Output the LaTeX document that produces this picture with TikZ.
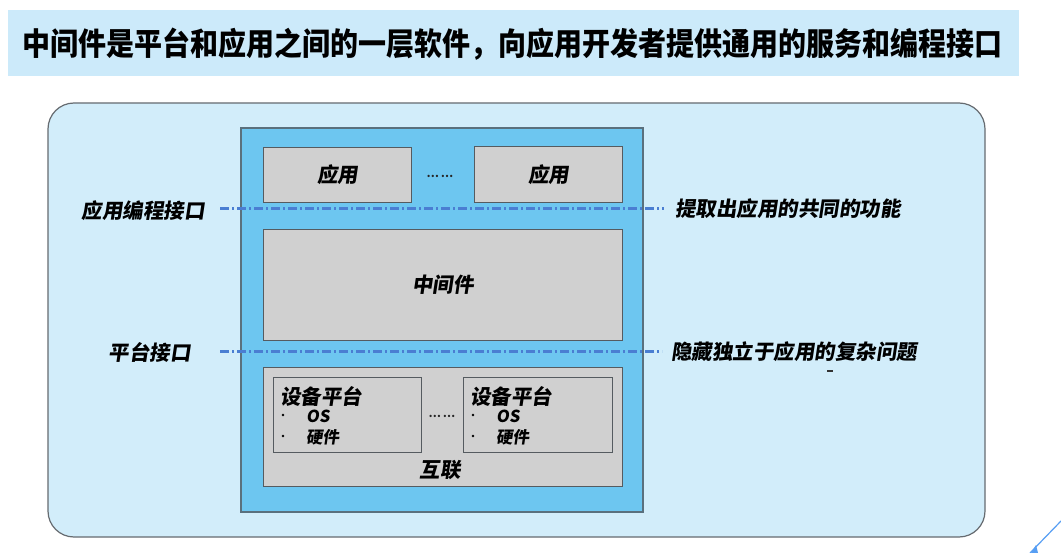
\documentclass[tikz,border=0pt]{standalone}
\usepackage{fontspec}
\newfontfamily\cjk{Noto Sans CJK SC}[FakeSlant=0.15]
\newfontfamily\cjkup{Noto Sans CJK SC}
\definecolor{titlebg}{HTML}{CCEAFA}
\definecolor{outerbg}{HTML}{D2EDFA}
\definecolor{innerbg}{HTML}{6DC6F0}
\definecolor{boxbg}{HTML}{D0D0D0}
\definecolor{ddline}{HTML}{4A7ED2}
\definecolor{edge}{HTML}{555B60}
\tikzset{
  gbox/.style={draw=edge, line width=1pt, fill=boxbg, anchor=north west, inner sep=0pt},
  lbl/.style={font=\cjk\bfseries\fontsize{20.5}{24}\selectfont, text=black, inner sep=0pt},
  small/.style={font=\cjk\bfseries\fontsize{16.5}{18}\selectfont, text=black, inner sep=0pt},
  bul/.style={circle, fill=black, inner sep=0pt, minimum size=2.6pt},
  dots/.style={font=\cjkup\bfseries\fontsize{11}{12}\selectfont, text=black!85, inner sep=0pt},
  ddl/.style={draw=ddline, line width=3pt, dash pattern=on 9pt off 3pt on 2pt off 3pt}
}
\begin{document}
\begin{tikzpicture}[x=1pt,y=-1pt]
\useasboundingbox (0,0) rectangle (1061,553);
\fill[white] (0,0) rectangle (1061,553);
% title
\fill[titlebg] (8,10) rectangle (1019,76);
\node[font=\cjkup\bfseries\fontsize{28}{32}\selectfont, inner sep=0pt] (title) at (513,44) {\scalebox{1}[1.12]{中间件是平台和应用之间的一层软件，向应用开发者提供通用的服务和编程接口}};
% outer panel
\draw[draw=edge!90, line width=1.2pt, fill=outerbg, rounded corners=26pt] (48,103) rectangle (985,537);
% inner blue
\draw[draw=edge!80!innerbg, line width=1.2pt, fill=innerbg] (241,128) rectangle (643,512);
% apps
\node[gbox, minimum width=148pt, minimum height=55pt] (app1) at (263,147) {};
\node[lbl] at (app1.center) {应用};
\node[gbox, minimum width=148pt, minimum height=56pt] (app2) at (474,146) {};
\node[lbl] at (app2.center) {应用};
\node[dots] (d1) at (440,176) {…\,…};
% middleware
\node[gbox, minimum width=359pt, minimum height=111pt] (mw) at (263,229) {};
\node[lbl] at (mw.center) {中间件};
% platform
\node[gbox, minimum width=359pt, minimum height=119pt] (plat) at (263,367) {};
\node[gbox, minimum width=148pt, minimum height=75pt] (dev1) at (273,377) {};
\node[gbox, minimum width=149pt, minimum height=75pt] (dev2) at (463,377) {};
\node[dots] (d2) at (442,416) {…\,…};
\foreach \n/\x in {dev1/280,dev2/470}{
  \node[lbl, anchor=west] (\n t) at (\x,396) {设备平台};
  \node[bul] (\n a) at (\x+3,415) {};
  \node[small, anchor=west] (\n b) at (\x+26,416) {OS};
  \node[bul] (\n c) at (\x+3,436) {};
  \node[small, anchor=west] (\n d) at (\x+26,437) {硬件};
}
\node[lbl] (hl) at (440,470) {互联};
% interface labels
\node[lbl, anchor=east] (lapi) at (205,211) {应用编程接口};
\node[lbl, anchor=west] (rapi) at (675,209) {提取出应用的共同的功能};
\node[lbl, anchor=east] (lplat) at (191,352) {平台接口};
\node[lbl, anchor=west] (rplat) at (671,352) {隐藏独立于应用的复杂问题};
\draw[ddl] (220,209) -- (rapi.west -| 664,0);
\draw[ddl] (220,352) -- (rplat.west -| 662,0);
% stray mark
\draw[black!80, line width=1.2pt] (827,371) -- (833,371);
% corner decoration
\draw[color=innerbg!80!blue, line width=1.2pt] (1061,521) -- (1030,553);
\fill[color=innerbg!80!blue] (1031,553) -- (1036,545) -- (1038,553) -- cycle;
\end{tikzpicture}
\end{document}
